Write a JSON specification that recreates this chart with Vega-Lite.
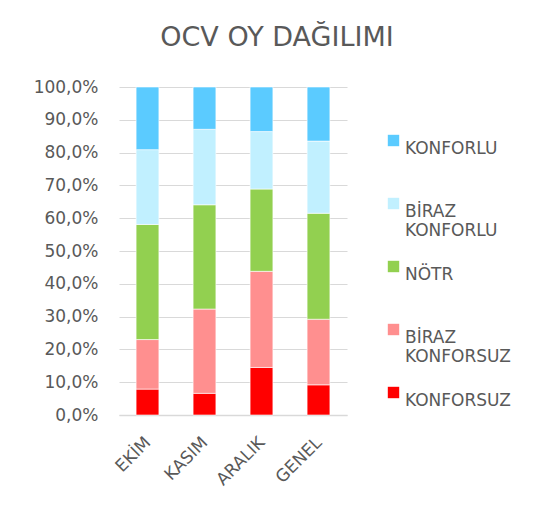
{
  "$schema": "https://vega.github.io/schema/vega-lite/v6.json",
  "width": 228,
  "height": 328,
  "autosize": {"type": "none"},
  "padding": {"left": 119, "top": 87, "right": 195, "bottom": 91},
  "background": "white",
  "title": {
    "text": "OCV OY DAĞILIMI",
    "anchor": "middle",
    "frame": "group",
    "dx": 44,
    "offset": 26,
    "fontSize": 27,
    "font": "DejaVu Sans",
    "fontWeight": "normal",
    "color": "#595959"
  },
  "data": {
    "values": [
      {"ay": "EKİM", "cat": "KONFORSUZ", "pct": 7.9},
      {"ay": "EKİM", "cat": "BİRAZ KONFORSUZ", "pct": 15.1},
      {"ay": "EKİM", "cat": "NÖTR", "pct": 35.1},
      {"ay": "EKİM", "cat": "BİRAZ KONFORLU", "pct": 22.8},
      {"ay": "EKİM", "cat": "KONFORLU", "pct": 19.1},
      {"ay": "KASIM", "cat": "KONFORSUZ", "pct": 6.6},
      {"ay": "KASIM", "cat": "BİRAZ KONFORSUZ", "pct": 25.7},
      {"ay": "KASIM", "cat": "NÖTR", "pct": 31.8},
      {"ay": "KASIM", "cat": "BİRAZ KONFORLU", "pct": 23.0},
      {"ay": "KASIM", "cat": "KONFORLU", "pct": 12.9},
      {"ay": "ARALIK", "cat": "KONFORSUZ", "pct": 14.5},
      {"ay": "ARALIK", "cat": "BİRAZ KONFORSUZ", "pct": 29.3},
      {"ay": "ARALIK", "cat": "NÖTR", "pct": 25.1},
      {"ay": "ARALIK", "cat": "BİRAZ KONFORLU", "pct": 17.5},
      {"ay": "ARALIK", "cat": "KONFORLU", "pct": 13.6},
      {"ay": "GENEL", "cat": "KONFORSUZ", "pct": 9.2},
      {"ay": "GENEL", "cat": "BİRAZ KONFORSUZ", "pct": 20.0},
      {"ay": "GENEL", "cat": "NÖTR", "pct": 32.3},
      {"ay": "GENEL", "cat": "BİRAZ KONFORLU", "pct": 22.0},
      {"ay": "GENEL", "cat": "KONFORLU", "pct": 16.5}
    ]
  },
  "transform": [
    {"calculate": "indexof(['KONFORSUZ', 'BİRAZ KONFORSUZ', 'NÖTR', 'BİRAZ KONFORLU', 'KONFORLU'], datum.cat)", "as": "sira"}
  ],
  "mark": {"type": "bar", "stroke": "white", "strokeWidth": 0.6},
  "encoding": {
    "x": {
      "field": "ay",
      "type": "nominal",
      "sort": ["EKİM", "KASIM", "ARALIK", "GENEL"],
      "scale": {"paddingInner": 0.6, "paddingOuter": 0.3},
      "axis": {
        "title": null,
        "labelAngle": -45,
        "labelFontSize": 17,
        "labelFont": "DejaVu Sans",
        "labelColor": "#595959",
        "labelPadding": 19,
        "labelOffset": -5,
        "ticks": false,
        "domain": true,
        "domainColor": "#d9d9d9",
        "domainWidth": 1.5,
        "grid": false
      }
    },
    "y": {
      "field": "pct",
      "type": "quantitative",
      "stack": "zero",
      "scale": {"domain": [0, 100]},
      "axis": {
        "title": null,
        "values": [0, 10, 20, 30, 40, 50, 60, 70, 80, 90, 100],
        "labelExpr": "replace(format(datum.value, '.1f'), '.', ',') + '%'",
        "labelFontSize": 17,
        "labelFont": "DejaVu Sans",
        "labelColor": "#595959",
        "labelPadding": 21,
        "ticks": false,
        "tickSize": 0,
        "domain": false,
        "grid": true,
        "gridColor": "#d9d9d9",
        "gridWidth": 1
      }
    },
    "order": {"field": "sira", "type": "quantitative"},
    "color": {
      "field": "cat",
      "type": "nominal",
      "scale": {
        "domain": ["KONFORSUZ", "BİRAZ KONFORSUZ", "NÖTR", "BİRAZ KONFORLU", "KONFORLU"],
        "range": ["#ff0000", "#ff8f8f", "#92d050", "#c1f0ff", "#5bcbff"]
      },
      "legend": {
        "orient": "none",
        "legendX": 266,
        "legendY": 45,
        "title": null,
        "values": ["KONFORLU", "BİRAZ KONFORLU", "NÖTR", "BİRAZ KONFORSUZ", "KONFORSUZ"],
        "labelExpr": "indexof(datum.label, ' ') > 0 ? split(datum.label, ' ') : [datum.label, '']",
        "labelBaseline": "top",
        "symbolType": "square",
        "symbolSize": 130,
        "symbolStrokeWidth": 0,
        "labelFontSize": 17,
        "labelFont": "DejaVu Sans",
        "labelColor": "#595959",
        "labelOffset": 3,
        "rowPadding": 19
      }
    }
  },
  "config": {
    "view": {"stroke": null}
  }
}
